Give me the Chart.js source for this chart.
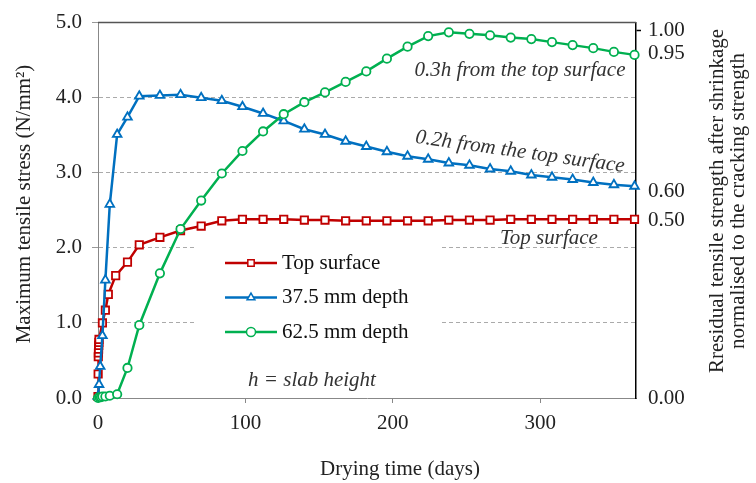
<!DOCTYPE html>
<html>
<head>
<meta charset="utf-8">
<script src="https://cdn.jsdelivr.net/npm/chart.js@4/dist/chart.umd.min.js"></script>
<style>
  html, body { margin: 0; padding: 0; background: #fff; }
  #wrap { width: 756px; height: 483px; position: relative; }
</style>
</head>
<body>
<div id="wrap"><canvas id="stressChart"></canvas></div>
<script>
// data
const topDays    = [0, 0.1, 0.2, 0.3, 0.4, 0.5, 0.6, 0.7, 3, 5, 7, 12, 20, 28, 42, 56, 70, 84, 98, 112, 126, 140, 154, 168, 182, 196, 210, 224, 238, 252, 266, 280, 294, 308, 322, 336, 350, 364];
const topStress  = [0.02, 0.32, 0.55, 0.6, 0.65, 0.7, 0.74, 0.78, 1.0, 1.17, 1.38, 1.63, 1.81, 2.04, 2.14, 2.23, 2.29, 2.36, 2.38, 2.38, 2.38, 2.37, 2.37, 2.36, 2.36, 2.36, 2.36, 2.36, 2.37, 2.37, 2.37, 2.38, 2.38, 2.38, 2.38, 2.38, 2.38, 2.38];
const d375Days   = [0, 0.7, 1.5, 3, 5, 8, 13, 20, 28, 42, 56, 70, 84, 98, 112, 126, 140, 154, 168, 182, 196, 210, 224, 238, 252, 266, 280, 294, 308, 322, 336, 350, 364];
const d375Stress = [0.02, 0.18, 0.42, 0.83, 1.57, 2.58, 3.51, 3.74, 4.02, 4.03, 4.04, 4.00, 3.96, 3.88, 3.79, 3.69, 3.58, 3.51, 3.42, 3.35, 3.28, 3.22, 3.18, 3.13, 3.10, 3.05, 3.02, 2.97, 2.94, 2.91, 2.87, 2.84, 2.82];
const d625Days   = [0, 1, 2, 3, 5, 8, 13, 20, 28, 42, 56, 70, 84, 98, 112, 126, 140, 154, 168, 182, 196, 210, 224, 238, 252, 266, 280, 294, 308, 322, 336, 350, 364];
const d625Stress = [0.0, 0.01, 0.01, 0.02, 0.02, 0.03, 0.05, 0.40, 0.97, 1.66, 2.25, 2.63, 2.99, 3.29, 3.55, 3.78, 3.94, 4.07, 4.21, 4.35, 4.52, 4.68, 4.82, 4.87, 4.85, 4.83, 4.80, 4.78, 4.74, 4.70, 4.66, 4.61, 4.57];

const seriesNames = ['Top surface', '37.5 mm depth', '62.5 mm depth'];
const xTicks = [0, 100, 200, 300];
const yTicks = [0, 1, 2, 3, 4, 5];
// right axis: labels sit at the stress level they refer to
const rightTickValues = [0, 2.36, 2.75, 4.59, 4.89];
const rightTickLabels = ['0.00', '0.50', '0.60', '0.95', '1.00'];

const SERIF = '"Liberation Serif", "Times New Roman", serif';
const f21 = { family: SERIF, size: 21 };
const INK = '#222';

const pts = (xs, ys) => xs.map((x, i) => ({ x: x, y: ys[i] }));

const frame = {
  id: 'frame',
  beforeDatasetsDraw(chart) {
    const { ctx, chartArea: a } = chart;
    ctx.save();
    // legend background hides the grid lines behind it
    ctx.fillStyle = '#fff';
    ctx.fillRect(197, 238, 243, 108);
    ctx.strokeStyle = '#555'; ctx.lineWidth = 1.5;
    ctx.beginPath(); ctx.moveTo(a.left, a.top); ctx.lineTo(a.right, a.top); ctx.stroke();
    ctx.restore();
  },
  afterDatasetsDraw(chart) {
    const { ctx } = chart;
    ctx.save();
    // legend
    chart.data.datasets.forEach((ds, i) => {
      const y = 263 + i * 34.5;
      ctx.strokeStyle = ds.borderColor; ctx.lineWidth = 2.5;
      ctx.beginPath(); ctx.moveTo(225, y); ctx.lineTo(277, y); ctx.stroke();
      ctx.fillStyle = '#fff'; ctx.lineWidth = 1.5;
      Chart.helpers.drawPoint(ctx, { pointStyle: ds.pointStyle, radius: 4.5, borderWidth: 1.5, rotation: 0 }, 251, y);
      ctx.fillStyle = '#111'; ctx.font = '21px ' + SERIF;
      ctx.textAlign = 'left'; ctx.textBaseline = 'middle';
      ctx.fillText(ds.label, 282, y);
    });
    // annotations
    ctx.fillStyle = '#333';
    ctx.font = 'italic 21px ' + SERIF;
    ctx.textAlign = 'center'; ctx.textBaseline = 'middle';
    ctx.fillText('0.3h from the top surface', 520, 70);
    ctx.fillText('Top surface', 549, 238);
    ctx.fillText('h = slab height', 312, 380);
    ctx.save();
    ctx.translate(520, 152); ctx.rotate(8 * Math.PI / 180);
    ctx.fillText('0.2h from the top surface', 0, 0);
    ctx.restore();
    // axis titles
    ctx.fillStyle = INK; ctx.font = '21px ' + SERIF;
    ctx.fillText('Drying time (days)', 400, 469);
    [['Maximum tensile stress (N/mm²)', 24, 204],
     ['Rresidual tensile strength after shrinkage', 717, 201],
     ['normalised to the cracking strength', 738, 201]].forEach(([t, x, y]) => {
      ctx.save(); ctx.translate(x, y); ctx.rotate(-Math.PI / 2);
      ctx.fillText(t, 0, 0); ctx.restore();
    });
    ctx.restore();
  }
};

new Chart(document.getElementById('stressChart'), {
  type: 'line',
  data: {
    datasets: [
      { label: seriesNames[0], data: pts(topDays, topStress), borderColor: '#C00000', pointStyle: 'rect', pointRadius: 5.2, order: 2 },
      { label: seriesNames[1], data: pts(d375Days, d375Stress), borderColor: '#0070C0', pointStyle: 'triangle', pointRadius: 5, order: 1 },
      { label: seriesNames[2], data: pts(d625Days, d625Stress), borderColor: '#00B050', pointStyle: 'circle', pointRadius: 4.2, order: 0 }
    ].map(d => Object.assign(d, {
      borderWidth: 2.5, tension: 0, pointBackgroundColor: '#fff', pointBorderColor: d.borderColor,
      pointBorderWidth: 1.8, clip: false
    }))
  },
  options: {
    responsive: true, maintainAspectRatio: false, animation: false,
    layout: { padding: { top: 21, left: 0, right: 0, bottom: 0 } },
    plugins: { legend: { display: false }, tooltip: { enabled: false } },
    scales: {
      x: {
        type: 'linear', min: 0, max: 365,
        afterBuildTicks: s => { s.ticks = xTicks.map(v => ({ value: v })); },
        afterFit: s => { s.height = 85; },
        ticks: { font: f21, color: INK, padding: 8, maxRotation: 0 },
        grid: { drawOnChartArea: false, tickLength: 5, color: '#888' },
        border: { color: '#888', width: 1 }
      },
      y: {
        min: 0, max: 5,
        afterBuildTicks: s => { s.ticks = yTicks.map(v => ({ value: v })); },
        afterFit: s => { s.width = 98; },
        ticks: { font: f21, color: INK, padding: 10, autoSkip: false, callback: v => v.toFixed(1) },
        grid: {
          tickLength: 6, tickColor: '#999', lineWidth: 1,
          color: c => (c.tick && c.tick.value > 0 && c.tick.value < 5) ? '#aaa' : 'rgba(0,0,0,0)'
        },
        border: { color: '#888', width: 1, dash: [4, 3] }
      },
      y2: {
        position: 'right', min: 0, max: 5,
        afterBuildTicks: s => { s.ticks = rightTickValues.map(v => ({ value: v })); },
        afterFit: s => { s.width = 120; },
        ticks: { font: f21, color: INK, padding: 7, autoSkip: false, callback: (v, i) => rightTickLabels[i] },
        grid: { drawOnChartArea: false, tickLength: 5, tickWidth: 1.5, tickColor: c => c.index === 4 ? '#000' : 'rgba(0,0,0,0)' },
        border: { color: '#000', width: 1.5 }
      }
    }
  },
  plugins: [frame]
});
</script>
</body>
</html>
